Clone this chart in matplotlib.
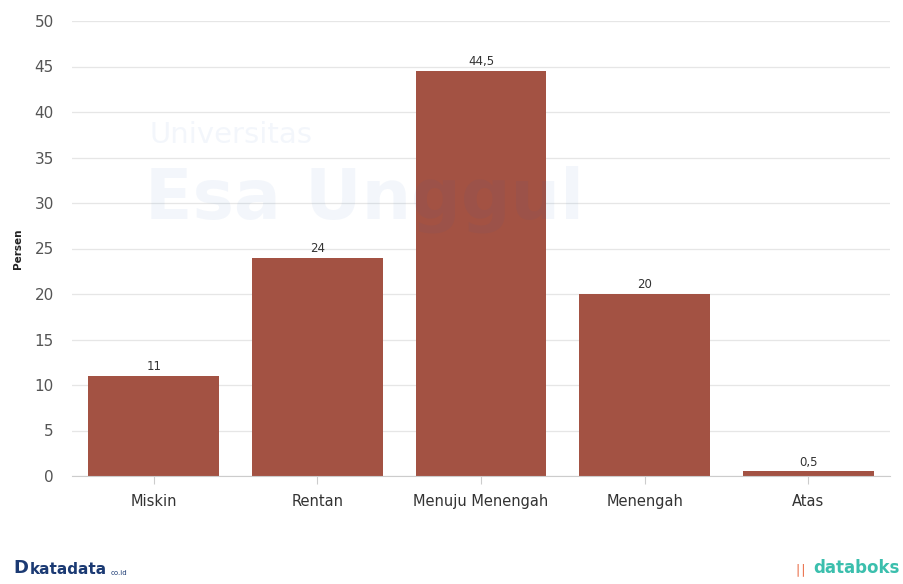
import matplotlib
matplotlib.use("Agg")
import matplotlib.pyplot as plt

categories = ["Miskin", "Rentan", "Menuju Menengah", "Menengah", "Atas"]
values = [11, 24, 44.5, 20, 0.5]
value_labels = ["11", "24", "44,5", "20", "0,5"]
yticks = [0, 5, 10, 15, 20, 25, 30, 35, 40, 45, 50]

plt.rcParams['font.family'] = ['DejaVu Sans']

fig = plt.figure(figsize=(9.04, 5.84), dpi=100)
ax = fig.add_axes([72/904, 108/584, (890-72)/904, (476-21)/584])

# watermark
fig.text(0.165, 0.768, "Universitas", fontsize=21, color="#1f5fbf", alpha=0.05, ha="left", va="center")
fig.text(0.160, 0.658, "Esa Unggul", fontsize=50, fontweight="bold", color="#1f5fbf", alpha=0.05, ha="left", va="center")

bar_color = "#a35243"
bars = ax.bar(range(len(categories)), values, width=0.8, color=bar_color, zorder=3)
for i, (v, lab) in enumerate(zip(values, value_labels)):
    ax.text(i, v + 0.3, lab, ha="center", va="bottom", fontsize=8.5, color="#333333", zorder=4)

ax.set_xlim(-0.5, len(categories) - 0.5)
ax.set_ylim(0, 50)
ax.set_yticks(yticks)
ax.set_yticklabels([str(t) for t in yticks])
ax.set_xticks(range(len(categories)))
ax.set_xticklabels(categories)

ax.grid(axis="y", color="#e6e6e6", linewidth=0.9, zorder=0)
for s in ["top", "right", "left"]:
    ax.spines[s].set_visible(False)
ax.spines["bottom"].set_color("#cccccc")
ax.spines["bottom"].set_zorder(5)

ax.tick_params(axis="y", length=0, pad=13, labelsize=11, labelcolor="#555555")
ax.tick_params(axis="x", length=6, color="#cccccc", pad=7, labelsize=10.5, labelcolor="#333333")

ax.set_ylabel("Persen", fontsize=7.5, fontweight="bold", color="#222222", labelpad=8)

# footer logos
fig.text(0.015, 0.012, "D", fontsize=13, fontweight="bold", color="#1b3a73", ha="left", va="bottom")
fig.text(0.033, 0.012, "katadata", fontsize=11, fontweight="bold", color="#1b3a73", ha="left", va="bottom")
fig.text(0.122, 0.014, "co.id", fontsize=5, color="#1b3a73", ha="left", va="bottom")
fig.text(0.995, 0.012, "databoks", fontsize=12, fontweight="bold", color="#3bbfad", ha="right", va="bottom")
fig.text(0.893, 0.014, "\u2223\u2223", fontsize=9, color="#e8623a", ha="right", va="bottom")

fig.savefig("out.png", dpi=100)
